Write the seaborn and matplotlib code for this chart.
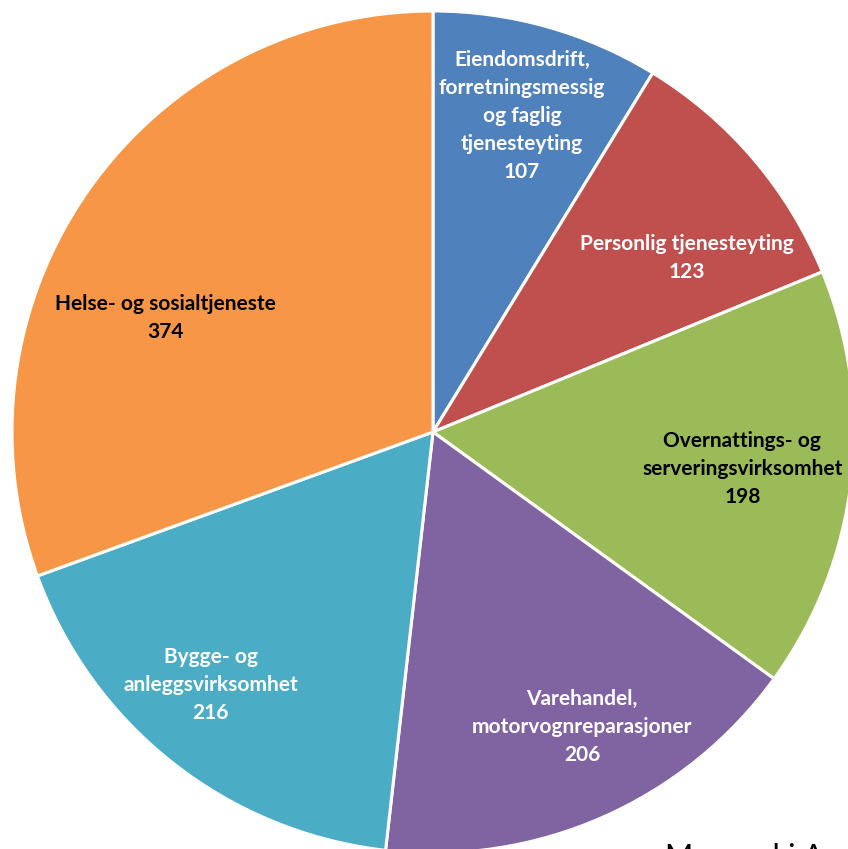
import matplotlib
matplotlib.use('Agg')
import matplotlib.pyplot as plt
import seaborn as sns
import numpy as np

# data, clockwise from 12 o'clock
categories = ['Eiendomsdrift,\nforretningsmessig\nog faglig\ntjenesteyting',
              'Personlig tjenesteyting',
              'Overnattings- og\nserveringsvirksomhet',
              'Varehandel,\nmotorvognreparasjoner',
              'Bygge- og\nanleggsvirksomhet',
              'Helse- og sosialtjeneste']
values = [107, 123, 198, 206, 216, 374]
colors = ['#4F81BD', '#C0504D', '#9BBB59', '#8064A2', '#4BACC6', '#F79646']
text_colors = ['white', 'white', 'black', 'white', 'white', 'black']

sns.set_theme(style='white')
plt.rcParams['font.family'] = ['Lato', 'DejaVu Sans']

fig = plt.figure(figsize=(8.48, 8.49), dpi=100)
# pie centre at (433, 432) px, radius 421 px
ax = fig.add_axes([(433 - 421) / 848, (417 - 421) / 849, 842 / 848, 842 / 849])

wedges, _ = ax.pie(values, colors=sns.color_palette(colors), startangle=90,
                   counterclock=False, radius=1,
                   wedgeprops=dict(edgecolor='white', linewidth=2.2))
ax.set_xlim(-1, 1)
ax.set_ylim(-1, 1)
ax.set_aspect('equal')
ax.axis('off')

# label placement (distance from centre, angle tweak in degrees)
label_pos = [(0.78, 0), (0.73, -6), (0.74, 0), (0.785, 3), (0.80, -3), (0.69, 12)]
for w, name, v, tc, (r, dth) in zip(wedges, categories, values, text_colors, label_pos):
    mid = np.deg2rad((w.theta1 + w.theta2) / 2 + dth)
    ax.text(r * np.cos(mid), r * np.sin(mid), f'{name}\n{v}', ha='center', va='center',
            color=tc, fontsize=15, fontweight='bold', linespacing=1.5)

# cut-off caption at the bottom edge
fig.text(665 / 848, -0.02, 'Menneski A', fontsize=22, color='black', ha='left', va='baseline')

fig.savefig('out.png', dpi=100)
